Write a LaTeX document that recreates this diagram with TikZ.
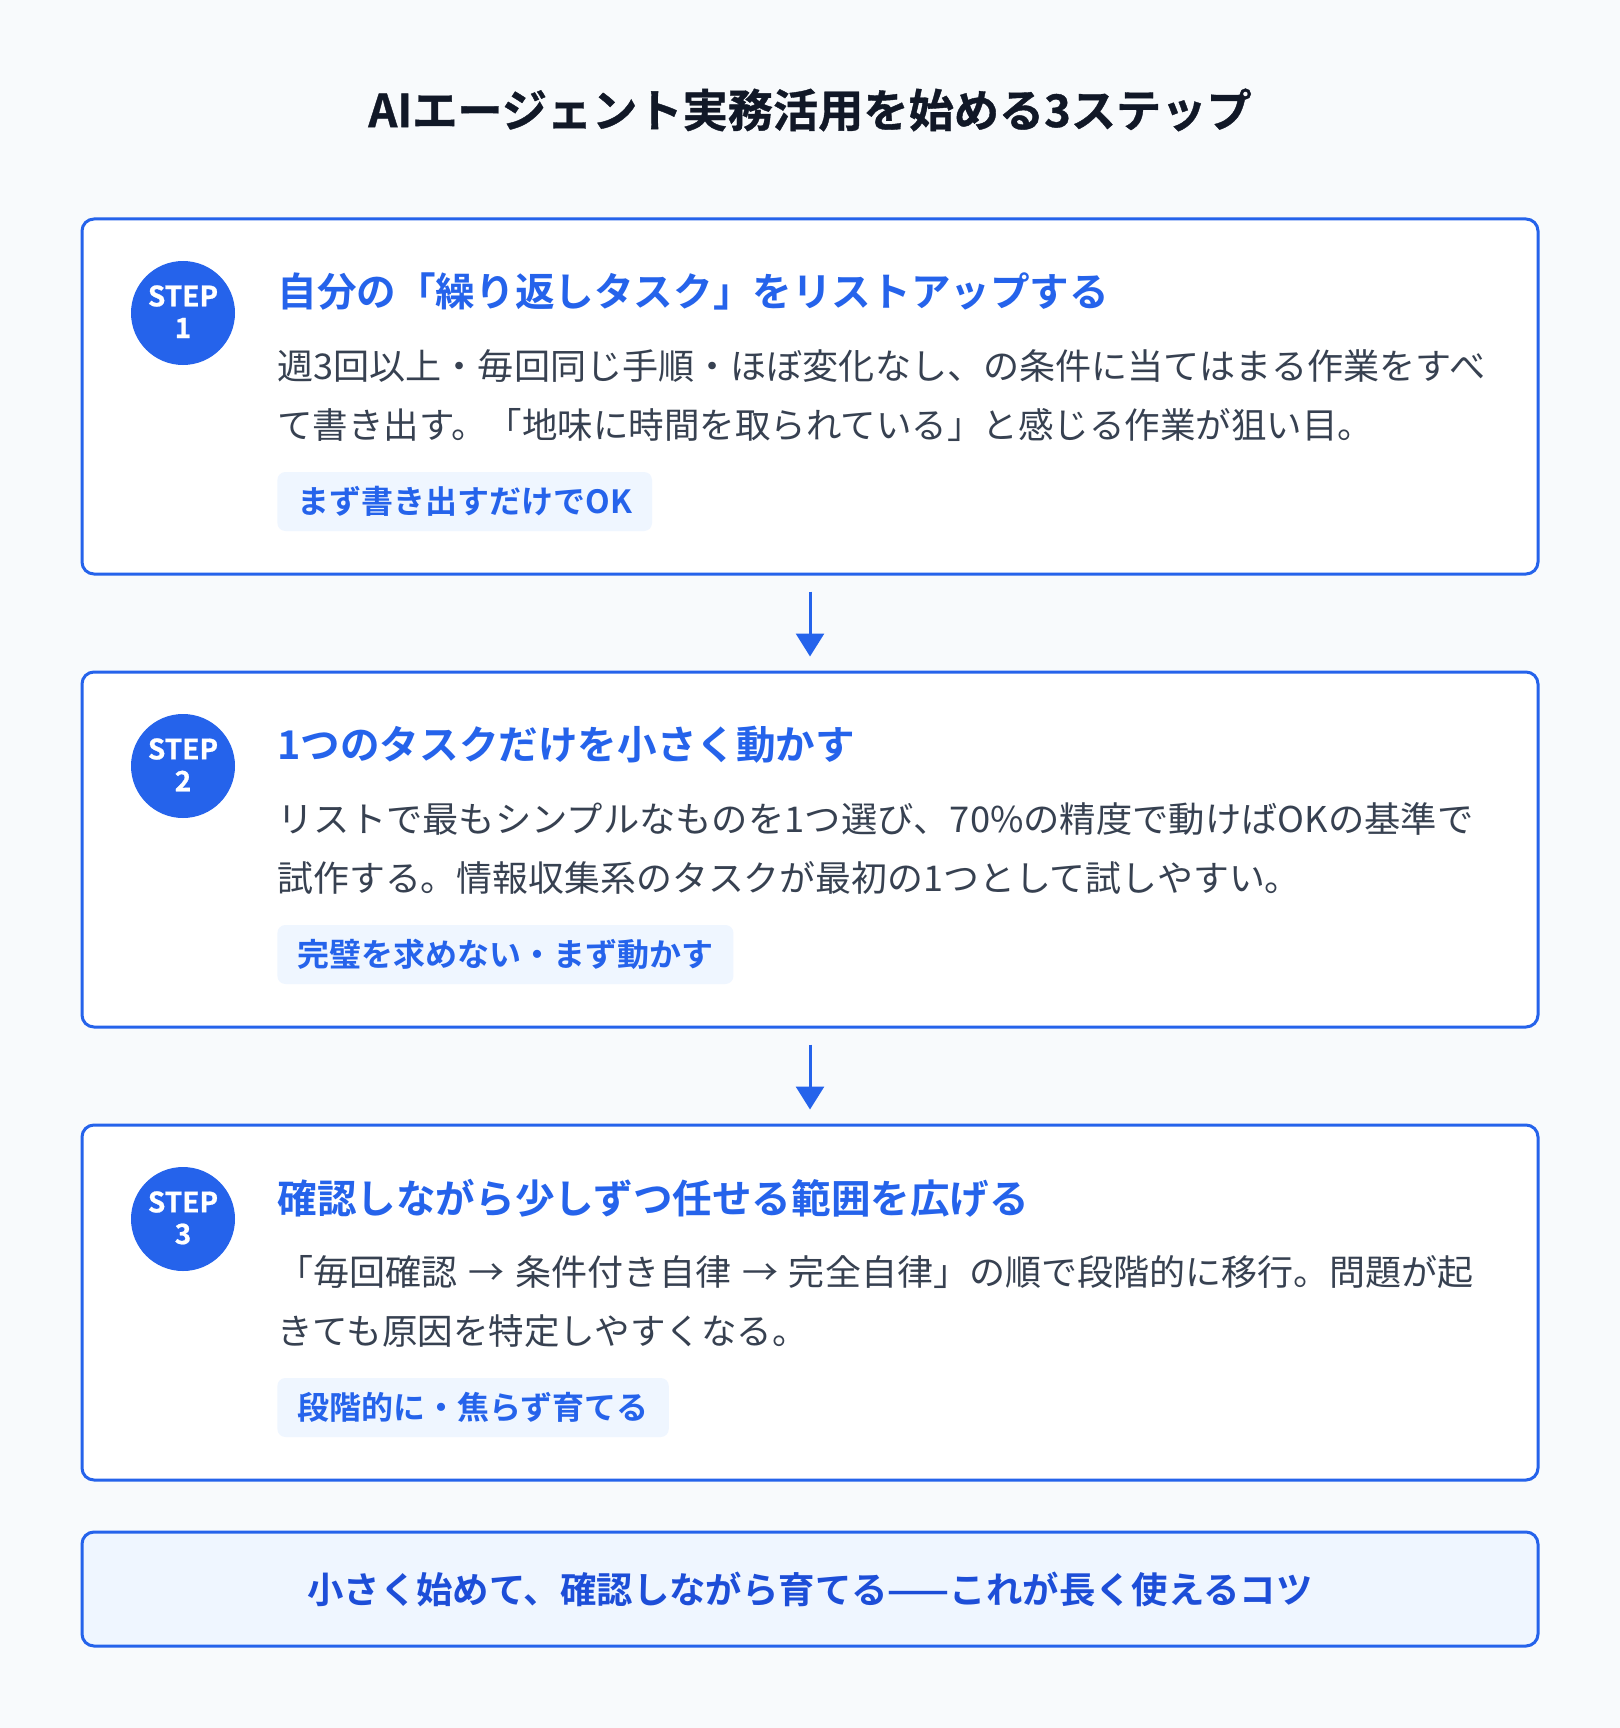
\documentclass[tikz,border=0pt]{standalone}
\usepackage{fontspec}
\usepackage{graphicx}
\setmainfont{Noto Sans CJK JP}[BoldFont={Noto Sans CJK JP Bold}]
\newfontfamily\heavyfont{Noto Sans CJK JP Bold}[FakeBold=0.8]
\newcommand\fitline[2]{\resizebox{#1}{\height}{#2}}
\usetikzlibrary{arrows.meta}
\definecolor{bgc}{HTML}{F8FAFC}
\definecolor{mainblue}{HTML}{2563EB}
\definecolor{deepblue}{HTML}{1D4ED8}
\definecolor{tagfill}{HTML}{EFF6FF}
\definecolor{bodytext}{HTML}{374151}
\definecolor{titletext}{HTML}{111827}
\begin{document}
\begin{tikzpicture}[x=0.5pt,y=-0.5pt,
  stepbox/.style={draw=mainblue, line width=1.5pt, fill=white, rounded corners=6pt,
    minimum width=728pt, minimum height=177.5pt, inner sep=0pt},
  notebox/.style={draw=mainblue, line width=1.5pt, fill=tagfill, rounded corners=6pt,
    minimum width=728pt, minimum height=57pt, inner sep=0pt},
  badge/.style={circle, fill=mainblue, minimum size=52pt, inner sep=0pt},
  badgetxt/.style={text=white, inner sep=0pt, font=\heavyfont\fontsize{14}{14}\selectfont},
  headtxt/.style={anchor=west, inner sep=0pt, text=mainblue, font=\bfseries\fontsize{19.8}{22}\selectfont},
  bodytxt/.style={anchor=west, inner sep=0pt, text=bodytext, font=\fontsize{17.75}{20}\selectfont},
  tagbox/.style={anchor=west, fill=tagfill, rounded corners=4pt, inner xsep=10pt, inner ysep=0pt,
    minimum height=29.5pt, text=mainblue, font=\bfseries\fontsize{16}{17}\selectfont},
  flow/.style={draw=mainblue, line width=1.5pt, -{Triangle[width=14pt,length=11.5pt]}}
]
\fill[bgc] (0,0) rectangle (1620,1728);
\useasboundingbox (0,0) rectangle (1620,1728);

\node[inner sep=0pt, text=titletext, font=\heavyfont\fontsize{22.6}{24}\selectfont] (title) at (810,110) {AIエージェント実務活用を始める3ステップ};

% Step 1 (top 219)
\node[stepbox] (b1) at (810,396.5) {};
\node[badge] (c1) at (183,313) {};
\node[badgetxt] (c1s) at ([yshift=8.5pt]c1.center) {STEP};
\node[badgetxt] (c1n) at ([yshift=-7.5pt]c1.center) {1};
\node[headtxt] (h1) at (277,292) {自分の「繰り返しタスク」をリストアップする};
\node[bodytxt] (p1a) at (277,366) {\fitline{604pt}{週3回以上・毎回同じ手順・ほぼ変化なし、の条件に当てはまる作業をすべ}};
\node[bodytxt] (p1b) at (277,425) {て書き出す。「地味に時間を取られている」と感じる作業が狙い目。};
\node[tagbox] (t1) at (277,501.5) {まず書き出すだけでOK};

% Step 2 (top 672)
\node[stepbox] (b2) at (810,849.5) {};
\node[badge] (c2) at (183,766) {};
\node[badgetxt] (c2s) at ([yshift=8.5pt]c2.center) {STEP};
\node[badgetxt] (c2n) at ([yshift=-7.5pt]c2.center) {2};
\node[headtxt] (h2) at (277,745) {1つのタスクだけを小さく動かす};
\node[bodytxt] (p2a) at (277,819) {\fitline{598pt}{リストで最もシンプルなものを1つ選び、70\%の精度で動けばOKの基準で}};
\node[bodytxt] (p2b) at (277,878) {\scalebox{1.011}[1]{試作する。情報収集系のタスクが最初の1つとして試しやすい。}};
\node[tagbox] (t2) at (277,954.5) {完璧を求めない・まず動かす};

% Step 3 (top 1125)
\node[stepbox] (b3) at (810,1302.5) {};
\node[badge] (c3) at (183,1219) {};
\node[badgetxt] (c3s) at ([yshift=8.5pt]c3.center) {STEP};
\node[badgetxt] (c3n) at ([yshift=-7.5pt]c3.center) {3};
\node[headtxt] (h3) at (277,1198) {確認しながら少しずつ任せる範囲を広げる};
\node[bodytxt] (p3a) at (277,1272) {\fitline{598pt}{「毎回確認\hspace{0.3em}→\hspace{0.3em}条件付き自律\hspace{0.3em}→\hspace{0.3em}完全自律」の順で段階的に移行。問題が起}};
\node[bodytxt] (p3b) at (277,1331) {きても原因を特定しやすくなる。};
\node[tagbox] (t3) at (277,1407.5) {段階的に・焦らず育てる};

% arrows
\draw[flow, shorten <=8pt, shorten >=7pt] (b1.south) -- (b2.north);
\draw[flow, shorten <=8pt, shorten >=7pt] (b2.south) -- (b3.north);

% bottom note
\node[notebox] (note) at (810,1589) {};
\node[inner sep=0pt, text=deepblue, font=\bfseries\fontsize{18.2}{20}\selectfont] (notetxt) at (note.center) {小さく始めて、確認しながら育てる——これが長く使えるコツ};
\end{tikzpicture}
\end{document}
